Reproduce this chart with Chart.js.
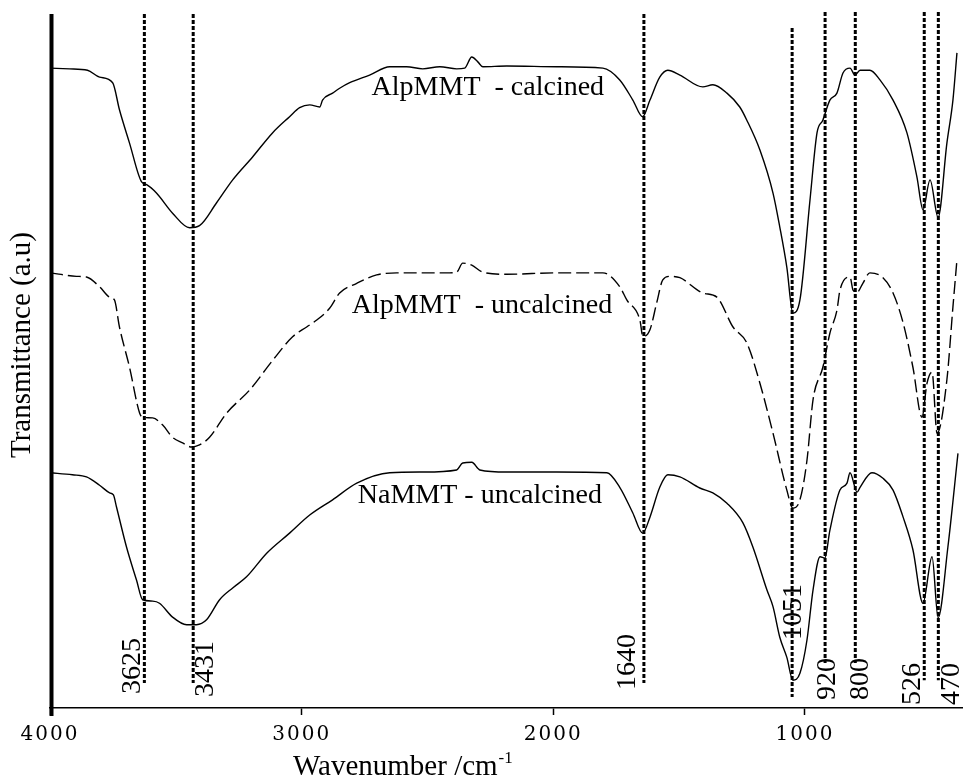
<!DOCTYPE html>
<html>
<head>
<meta charset="utf-8">
<script src="https://cdn.jsdelivr.net/npm/chart.js@4.4.0/dist/chart.umd.min.js"></script>
<style>
  html, body { margin: 0; padding: 0; background: #fff; }
  canvas { display: block; }
</style>
</head>
<body>
<canvas id="ftir" width="963" height="780"></canvas>
<script>
// FTIR spectra, wavenumber (cm-1) vs transmittance (a.u), curves stacked by offset
const xTicks = [4000, 3000, 2000, 1000];

const calcinedWn = [4000,3922,3851,3803,3751,3724,3684,3636,3616,3577,3513,3445,3406,3338,3274,3195,3115,3048,3008,2968,2928,2917,2877,2849,2809,2730,2650,2583,2519,2451,2384,2352,2324,2300,2280,2185,1986,1803,1736,1684,1645,1616,1577,1545,1497,1406,1366,1310,1259,1231,1179,1127,1100,1072,1048,1020,980,952,929,901,873,849,821,801,781,742,702,650,595,555,531,503,471,436,412,396];
const calcinedT = [92.2,92.1,91.9,90.9,90.1,86.2,81.4,75.8,75.4,74.2,71.3,69.2,69.5,72.8,76.1,79.4,82.9,85.2,86.5,86.9,86.6,87.6,88.6,89.3,90.1,91.2,92.4,92.4,92.1,92.4,92.1,92.2,93.8,93.1,92.4,92.5,92.4,92.2,90.5,87.6,85.2,87.6,90.9,91.9,91.2,89.5,89.8,88.6,86.6,84.7,80.4,74.2,69.3,63.5,56.9,58.8,73.2,82.9,84.7,87.6,88.6,91.5,92.2,91.2,91.9,91.9,90.5,87.6,82.9,76.5,71.8,76.1,70.7,81.4,87.6,94.4];

const uncalcinedWn = [4000,3895,3855,3803,3763,3744,3724,3684,3644,3632,3592,3553,3513,3473,3437,3406,3366,3298,3207,3115,3036,2980,2940,2889,2849,2781,2702,2622,2519,2412,2384,2360,2324,2280,2185,1986,1803,1736,1708,1656,1644,1616,1589,1565,1537,1497,1406,1350,1286,1231,1179,1127,1072,1048,1020,992,968,929,901,873,861,821,809,793,770,742,690,650,610,571,535,515,495,475,436,412,396];
const uncalcinedT = [62.7,62.2,62.1,60.7,59.2,58.8,54.9,49.1,42.5,41.9,41.8,40.8,39.0,38.2,37.6,37.9,39.0,42.5,45.8,50.1,53.5,54.9,55.9,57.6,59.8,61.2,62.4,62.7,62.7,62.7,62.8,64.1,63.8,62.8,62.5,62.7,62.7,60.7,58.8,55.9,53.5,54.5,58.4,61.7,62.2,62.0,59.8,59.2,54.9,52.6,46.8,39.6,31.4,28.8,30.0,35.7,44.4,49.1,54.0,57.3,60.2,62.1,60.2,59.9,61.2,62.7,62.0,59.8,55.5,49.1,41.9,46.8,48.4,39.6,47.3,57.8,64.6];

const nammtWn = [4000,3911,3855,3803,3763,3748,3736,3696,3656,3632,3592,3565,3513,3457,3418,3378,3326,3274,3219,3139,3048,2968,2877,2781,2650,2519,2384,2360,2324,2292,2185,1986,1787,1736,1684,1645,1616,1577,1545,1497,1418,1366,1310,1247,1207,1151,1127,1100,1072,1048,1020,992,968,940,921,901,861,833,821,793,781,734,690,650,610,571,531,495,471,432,392];
const nammtT = [33.9,33.6,33.3,32.1,31.0,30.7,29.0,23.2,18.4,15.6,15.4,15.1,13.1,12.0,12.0,12.7,15.6,17.3,18.9,22.3,25.2,27.8,30.0,32.4,33.9,34.0,34.3,35.3,35.4,34.3,34.0,34.0,33.9,31.8,28.1,25.2,27.5,31.8,33.6,33.3,31.7,31.0,29.5,26.7,23.2,17.0,14.6,10.2,7.3,4.0,5.0,9.8,17.0,21.8,21.6,25.6,31.4,32.4,33.9,31.1,31.8,33.9,33.1,31.4,27.5,22.8,15.1,21.8,13.0,23.2,36.7];

// marked bands and the a.u. span of their guide lines
const peakWn = [3625, 3431, 1640, 1051, 920, 800, 526, 470];
const peakTop = [100, 100, 100, 98.0, 100.3, 100.3, 100.3, 100.3];
const peakBottom = [3.6, 3.6, 3.6, 1.6, 6.5, 6.5, 4.0, 4.0];

const curveNames = ['AlpMMT  - calcined', 'AlpMMT  - uncalcined', 'NaMMT - uncalcined'];
const curveNameAt = [[2722, 88.3], [2801, 56.9], [2777, 29.5]];

const serif = "'Liberation Serif', 'Times New Roman', serif";

// where each band number sits relative to its line (px: dx, dy from x axis)
const peakLabelOffset = {
  3625: [-12, -42], 3431: [12, -39], 1640: [-16, -46], 1051: [2, -96],
  920: [3, -29], 800: [5, -29], 526: [-12, -24], 470: [13, -24]
};

function toPoints(wn, t) {
  return wn.map((w, i) => ({ x: w, y: t[i] }));
}

const ftirPlugin = {
  id: 'ftirDecor',
  beforeDraw(chart) {
    chart.ctx.letterSpacing = '2px';   // wide tick numerals
  },
  beforeDatasetsDraw(chart) {
    chart.ctx.letterSpacing = '0px';
  },
  afterDraw(chart) {
    const ctx = chart.ctx;
    const ca = chart.chartArea;
    const xs = chart.scales.x;
    const ys = chart.scales.y;

    ctx.save();
    ctx.fillStyle = '#000';
    ctx.fillRect(ca.left - 0.5, ca.top, 4, ca.bottom - ca.top + 8);

    // band numbers
    ctx.font = '28px ' + serif;
    ctx.textAlign = 'center';
    ctx.textBaseline = 'middle';
    peakWn.forEach(p => {
      const [dx, dy] = peakLabelOffset[p];
      ctx.save();
      ctx.translate(xs.getPixelForValue(p) + dx, ca.bottom + dy);
      ctx.rotate(-Math.PI / 2);
      ctx.fillText(String(p), 0, 0);
      ctx.restore();
    });

    // curve names
    ctx.textAlign = 'left';
    ctx.textBaseline = 'alphabetic';
    curveNames.forEach((name, i) => {
      const [w, t] = curveNameAt[i];
      ctx.fillText(name, xs.getPixelForValue(w), ys.getPixelForValue(t));
    });

    // axis titles
    ctx.font = '29px ' + serif;
    const xt = 'Wavenumber /cm';
    ctx.fillText(xt, 293, 775);
    const wx = ctx.measureText(xt).width;
    ctx.font = '17px ' + serif;
    ctx.fillText('-1', 293 + wx + 1, 763);

    ctx.font = '29px ' + serif;
    ctx.translate(22, 345);
    ctx.rotate(-Math.PI / 2);
    ctx.textAlign = 'center';
    ctx.textBaseline = 'middle';
    ctx.fillText('Transmittance (a.u)', 0, 0);
    ctx.restore();
  }
};

const peakSets = peakWn.map((p, i) => ({
  data: [{ x: p, y: peakTop[i] }, { x: p, y: peakBottom[i] }],
  borderColor: '#000',
  borderWidth: 3,
  borderDash: [4, 2],
  pointRadius: 0,
  tension: 0,
  clip: false
}));

const curveStyle = {
  borderColor: '#000',
  borderWidth: 1.4,
  pointRadius: 0,
  cubicInterpolationMode: 'monotone',
  fill: false
};

new Chart(document.getElementById('ftir'), {
  type: 'line',
  data: {
    datasets: [
      ...peakSets,
      { ...curveStyle, label: curveNames[0], data: toPoints(calcinedWn, calcinedT) },
      { ...curveStyle, label: curveNames[1], data: toPoints(uncalcinedWn, uncalcinedT), borderDash: [13, 5] },
      { ...curveStyle, label: curveNames[2], data: toPoints(nammtWn, nammtT) }
    ]
  },
  options: {
    responsive: false,
    animation: false,
    devicePixelRatio: 1,
    layout: { padding: { left: 50, top: 14, right: 0, bottom: 0 } },
    plugins: {
      legend: { display: false },
      tooltip: { enabled: false }
    },
    scales: {
      x: {
        type: 'linear',
        reverse: true,
        min: 372,
        max: 4000,
        afterBuildTicks: s => { s.ticks = xTicks.map(v => ({ value: v })); },
        afterFit: s => { s.height = 72; s.paddingLeft = 0; s.paddingRight = 0; },
        grid: { drawOnChartArea: false, drawTicks: true, tickLength: 7, tickWidth: 1.5, tickColor: '#000' },
        border: { display: true, color: '#000', width: 1.5 },
        ticks: {
          color: '#000',
          font: { family: "'DejaVu Serif', serif", size: 20 },
          padding: 8,
          maxRotation: 0,
          autoSkip: false,
          callback: v => String(v)
        }
      },
      y: { display: false, min: 0, max: 100 }
    }
  },
  plugins: [ftirPlugin]
});
</script>
</body>
</html>
